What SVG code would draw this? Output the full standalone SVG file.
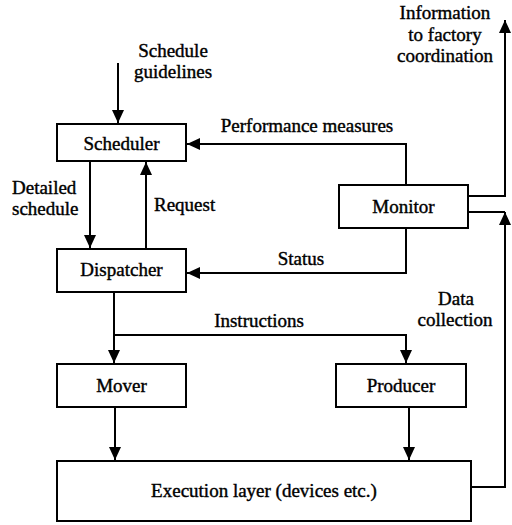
<svg xmlns="http://www.w3.org/2000/svg" width="512" height="525" viewBox="0 0 512 525">
  <style>
    .box { fill: #fff; stroke: #000; stroke-width: 2; }
    .line { fill: none; stroke: #000; stroke-width: 2; }
    text { font-size: 19px; fill: #000; stroke: #000; stroke-width: 0.4; }
    .c { text-anchor: middle; }
  </style>
  <defs>
    <marker id="arrow" viewBox="0 0 13 12" refX="13" refY="6" markerWidth="13" markerHeight="12" markerUnits="userSpaceOnUse" orient="auto">
      <path d="M0,0 L13,6 L0,12 Z" fill="#000"/>
    </marker>
  </defs>

  <rect width="512" height="525" fill="#fff"/>

  <!-- connectors -->
  <g id="connectors">
    <path class="line" d="M118,63 V123" marker-end="url(#arrow)"/>
    <path class="line" d="M406,185 V144 H187" marker-end="url(#arrow)"/>
    <path class="line" d="M90,161 V248" marker-end="url(#arrow)"/>
    <path class="line" d="M146,249 V162" marker-end="url(#arrow)"/>
    <path class="line" d="M406,228 V273 H187" marker-end="url(#arrow)"/>
    <path class="line" d="M468,196 H505 V20" marker-end="url(#arrow)"/>
    <path class="line" d="M472,487 H505 V212" marker-end="url(#arrow)"/>
    <path class="line" d="M468,212 H505"/>
    <path class="line" d="M114,292 V363" marker-end="url(#arrow)"/>
    <path class="line" d="M114,335 H406 V363" marker-end="url(#arrow)"/>
    <path class="line" d="M115,407 V460" marker-end="url(#arrow)"/>
    <path class="line" d="M409,407 V460" marker-end="url(#arrow)"/>
  </g>

  <g font-family="'Liberation Serif', 'Times New Roman', 'DejaVu Serif', serif">
  <!-- connector labels -->
  <g id="labels">
    <text class="c" x="173" y="57">Schedule</text>
    <text class="c" x="173" y="78">guidelines</text>
    <text class="c" x="307" y="132">Performance measures</text>
    <text x="12" y="194">Detailed</text>
    <text x="12" y="215">schedule</text>
    <text x="154" y="211">Request</text>
    <text class="c" x="301" y="265">Status</text>
    <text class="c" x="259" y="327">Instructions</text>
    <text class="c" x="456" y="305">Data</text>
    <text class="c" x="455" y="326">collection</text>
    <text class="c" x="445" y="19">Information</text>
    <text class="c" x="445" y="41">to factory</text>
    <text class="c" x="445" y="62">coordination</text>
  </g>

  <g id="scheduler">
    <rect class="box" x="57" y="124" width="129" height="37"/>
    <text class="c" x="121.5" y="150">Scheduler</text>
  </g>
  <g id="dispatcher">
    <rect class="box" x="57" y="249" width="129" height="43"/>
    <text class="c" x="121.5" y="276">Dispatcher</text>
  </g>
  <g id="monitor">
    <rect class="box" x="339" y="185" width="129" height="43"/>
    <text class="c" x="403.5" y="213">Monitor</text>
  </g>
  <g id="mover">
    <rect class="box" x="57" y="364" width="129" height="43"/>
    <text class="c" x="121.5" y="392">Mover</text>
  </g>
  <g id="producer">
    <rect class="box" x="336" y="364" width="130" height="43"/>
    <text class="c" x="401" y="392">Producer</text>
  </g>
  <g id="execution">
    <rect class="box" x="57" y="461" width="414" height="60"/>
    <text class="c" x="264" y="497">Execution layer (devices etc.)</text>
  </g>
  </g>
</svg>
